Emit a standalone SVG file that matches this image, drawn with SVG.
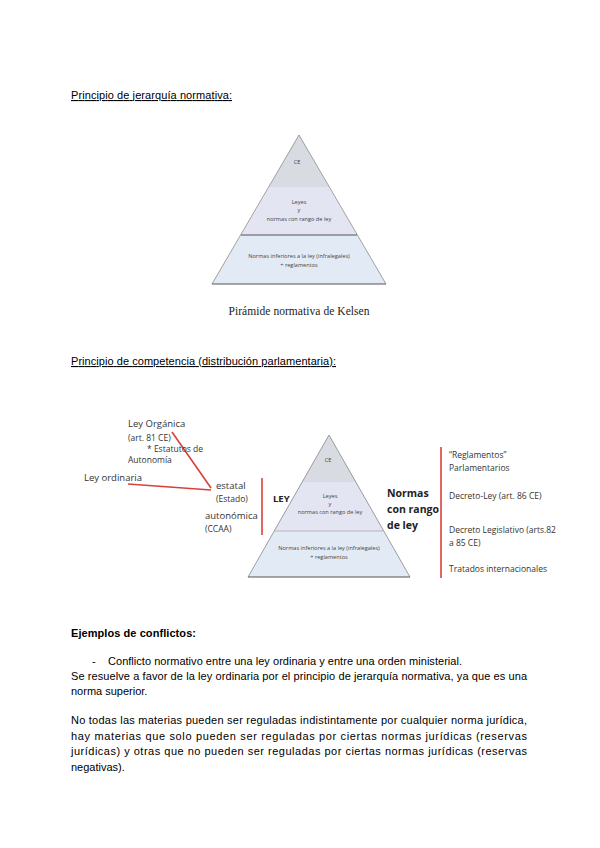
<svg xmlns="http://www.w3.org/2000/svg" width="600" height="848" viewBox="0 0 600 848">
<style>
.t{font-family:"Liberation Sans",Arial,sans-serif;font-size:11px;fill:#000}
.h{text-decoration:underline}
.c{font-family:"Open Sans","Liberation Sans",sans-serif;fill:#333}
.p{font-size:5.6px;text-anchor:middle;fill:#444}
.s{font-size:8.5px}
.m{font-size:9.5px}
.b{font-weight:bold;fill:#222}
.red{stroke:#d9403a;stroke-width:1.6;fill:none}
.edge{stroke:#888;stroke-width:0.8;fill:none}
.sep{stroke:#555;stroke-width:1}
</style>
<rect width="600" height="848" fill="#fff"/>

<g id="heading1"><text class="t h" x="71" y="99" textLength="161">Principio de jerarquía normativa:</text></g>

<g id="pyramid1">
<polygon points="299,135 269,187 329,187" fill="#d9dbe2"/>
<polygon points="269,187 329,187 357,235 241,235" fill="#e3e5f3"/>
<polygon points="241,235 357,235 386,284 212,284" fill="#e2ebf5"/>
<polyline class="edge" points="212,284 299,135 386,284"/>
<line class="sep" x1="241" y1="235" x2="357" y2="235"/>
<line class="sep" x1="212" y1="284" x2="386" y2="284"/>
<text class="c p" x="297" y="164">CE</text>
<text class="c p" x="299" y="204">Leyes</text>
<text class="c p" x="299" y="212">y</text>
<text class="c p" x="299" y="221">normas con rango de ley</text>
<text class="c p" x="299" y="258">Normas inferiores a la ley (infralegales)</text>
<text class="c p" x="299" y="267">+ reglamentos</text>
</g>
<g id="caption1"><text x="299" y="315" text-anchor="middle" font-family="'Liberation Serif',serif" font-size="11.5" fill="#222" textLength="141">Pirámide normativa de Kelsen</text></g>

<g id="heading2"><text class="t h" x="71" y="365" textLength="265">Principio de competencia (distribución parlamentaria):</text></g>

<g id="connectors">
<line class="red" x1="172" y1="432" x2="211" y2="488"/>
<line class="red" x1="128" y1="484" x2="211" y2="490"/>
<line class="red" x1="262" y1="478" x2="262" y2="535"/>
<line class="red" x1="441" y1="447" x2="441" y2="578"/>
</g>

<g id="ley-organica">
<text class="c m" x="128" y="427">Ley Orgánica</text>
<text class="c s" x="128" y="441">(art. 81 CE)</text>
<text class="c s" x="147" y="452">* Estatutos de</text>
<text class="c s" x="128" y="463">Autonomía</text>
</g>
<g id="ley-ordinaria"><text class="c m" x="84" y="481">Ley ordinaria</text></g>
<g id="estatal">
<text class="c m" x="216" y="489">estatal</text>
<text class="c s" x="216" y="502">(Estado)</text>
</g>
<g id="autonomica">
<text class="c m" x="205" y="519">autonómica</text>
<text class="c s" x="205" y="532">(CCAA)</text>
</g>
<g id="ley"><text class="c b" x="273" y="502" font-size="9.5">LEY</text></g>

<g id="pyramid2">
<polygon points="329,435 302,482 356,482" fill="#d9dbe2"/>
<polygon points="302,482 356,482 384,531 274,531" fill="#e3e5f3"/>
<polygon points="274,531 384,531 410,577 248,577" fill="#e2ebf5"/>
<polyline class="edge" points="248,577 329,435 410,577"/>
<line x1="274" y1="531" x2="384" y2="531" stroke="#aaa" stroke-width="0.8"/>
<line class="sep" x1="248" y1="577" x2="410" y2="577"/>
<text class="c p" x="328" y="462">CE</text>
<text class="c p" x="330" y="498">Leyes</text>
<text class="c p" x="330" y="506">y</text>
<text class="c p" x="330" y="514">normas con rango de ley</text>
<text class="c p" x="329" y="550">Normas inferiores a la ley (infralegales)</text>
<text class="c p" x="329" y="559">+ reglamentos</text>
</g>

<g id="normas-rango">
<text class="c b" x="387" y="497" font-size="10.5">Normas</text>
<text class="c b" x="387" y="513" font-size="10.5">con rango</text>
<text class="c b" x="387" y="529" font-size="10.5">de ley</text>
</g>

<g id="lista-normas">
<text class="c s" x="449" y="458">“Reglamentos”</text>
<text class="c s" x="449" y="471">Parlamentarios</text>
<text class="c s" x="449" y="499">Decreto-Ley (art. 86 CE)</text>
<text class="c s" x="449" y="533">Decreto Legislativo (arts.82</text>
<text class="c s" x="449" y="546">a 85 CE)</text>
<text class="c s" x="449" y="572">Tratados internacionales</text>
</g>

<g id="ejemplos">
<text class="t" x="71" y="637" font-weight="bold" textLength="125">Ejemplos de conflictos:</text>
<text class="t" x="92" y="665">-</text>
<text class="t" x="108" y="665" textLength="354">Conflicto normativo entre una ley ordinaria y entre una orden ministerial.</text>
<text class="t" x="71" y="680" textLength="456">Se resuelve a favor de la ley ordinaria por el principio de jerarquía normativa, ya que es una</text>
<text class="t" x="71" y="695">norma superior.</text>
<text class="t" x="71" y="724" textLength="456">No todas las materias pueden ser reguladas indistintamente por cualquier norma jurídica,</text>
<text class="t" x="71" y="740" textLength="456">hay materias que solo pueden ser reguladas por ciertas normas jurídicas (reservas</text>
<text class="t" x="71" y="755" textLength="456">jurídicas) y otras que no pueden ser reguladas por ciertas normas jurídicas (reservas</text>
<text class="t" x="71" y="771">negativas).</text>
</g>
</svg>
